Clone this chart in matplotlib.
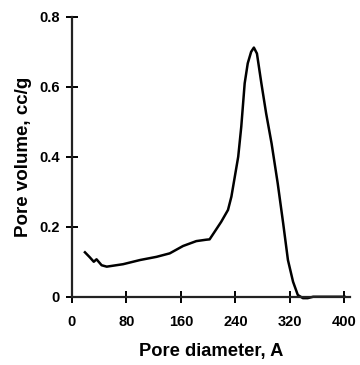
import matplotlib
matplotlib.use('Agg')
import matplotlib.pyplot as plt

plt.rcParams['font.family'] = ['Liberation Sans', 'DejaVu Sans']
plt.rcParams['font.weight'] = 'bold'

diameter = [19, 26, 32, 36, 43.5, 51, 75, 100, 124, 143.5, 163, 182.5, 197, 202,
            209.5, 219, 229, 234, 239, 244, 248.5, 253.5, 258, 263, 267, 271.5,
            278, 285, 293, 302, 310, 317, 324.5, 331.5, 339, 346, 354, 400]
volume = [0.127, 0.113, 0.100, 0.107, 0.090, 0.086, 0.093, 0.105, 0.114, 0.124,
          0.145, 0.159, 0.163, 0.164, 0.186, 0.214, 0.248, 0.286, 0.343, 0.400,
          0.486, 0.610, 0.667, 0.700, 0.712, 0.695, 0.610, 0.524, 0.438, 0.324,
          0.210, 0.105, 0.043, 0.005, -0.004, -0.004, 0.0, 0.0]
xticks = [0, 80, 160, 240, 320, 400]
yticks = [0, 0.2, 0.4, 0.6, 0.8]

fig = plt.figure(figsize=(3.6, 3.65), dpi=100)
ax = fig.add_axes([0.2, 0.187, 0.772, 0.767])
ax.plot(diameter, volume, color='black', lw=1.8, clip_on=False)

ax.set_xlim(0, 408)
ax.set_ylim(0, 0.8)
ax.set_xticks(xticks)
ax.set_yticks(yticks)
ax.set_yticklabels(['0', '0.2', '0.4', '0.6', '0.8'])
ax.spines['top'].set_visible(False)
ax.spines['right'].set_visible(False)
for s in ['left', 'bottom']:
    ax.spines[s].set_linewidth(1.6)
    ax.spines[s].set_color('#222222')
ax.tick_params(direction='inout', length=8, width=1.4, labelsize=10.5, colors='black')
ax.tick_params(axis='x', pad=9)
ax.tick_params(axis='y', pad=5)
ax.set_xlabel('Pore diameter, A', fontsize=13.2, fontweight='bold', labelpad=10)
ax.set_ylabel('Pore volume, cc/g', fontsize=13.5, fontweight='bold', labelpad=5)
for lab in ax.get_xticklabels() + ax.get_yticklabels():
    lab.set_fontweight('bold')

fig.savefig('out.png', dpi=100)
